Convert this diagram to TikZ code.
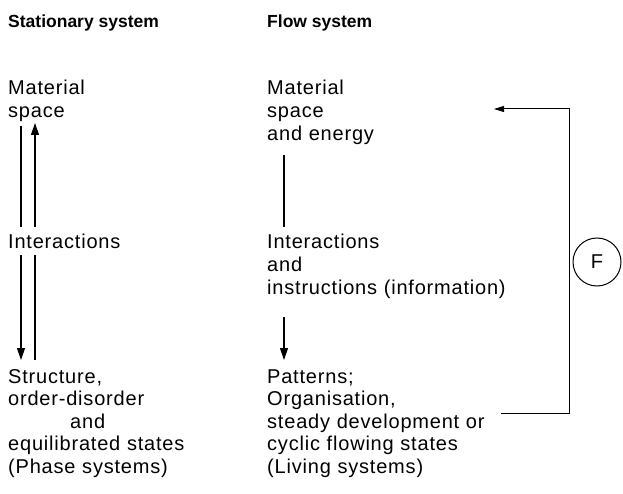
\documentclass[tikz,border=0pt]{standalone}
\usepackage{fontspec}
\setmainfont{Liberation Sans}
\newfontfamily\bodyfont[LetterSpace=4]{Liberation Sans}
\usepackage{tikz}
\usetikzlibrary{arrows.meta,positioning,calc}
\tikzset{
  ttl/.style={anchor=base west, inner sep=0pt,
    font=\bfseries\fontsize{17.5}{21}\selectfont},
  lbl/.style={anchor=base west, inner sep=0pt, text width=9cm, align=left,
    font=\bodyfont\fontsize{20}{23}\selectfont},
  lblb/.style={lbl, font=\bodyfont\fontsize{20}{22.5}\selectfont},
  link/.style={line width=1.1pt},
  flow/.style={link, -{Triangle[length=12pt, width=8pt]}},
  back/.style={line width=1pt, -{Triangle[length=10pt, width=6pt]}},
  ring/.style={draw, circle, line width=1pt, minimum size=48pt, inner sep=0pt,
    font=\fontsize{20}{23}\selectfont},
  >=Stealth}

\begin{document}
\begin{tikzpicture}[x=1pt, y=-1pt]
  \useasboundingbox (0,0) rectangle (623,494);
  % ---- column heads
  \node[ttl] (statT) at (8,28) {Stationary system};
  \node[ttl] (flowT) at (267,28) {Flow system};
  % ---- stationary column
  \node[lbl] (matL) at (8,95) {Material\\space};
  \node[lbl] (intL) at (8,248) {Interactions};
  \node[lblb] (strL) at (8,383)
    {Structure,\\order-disorder\\\hspace*{62pt}and\\equilibrated states\\(Phase systems)};
  % ---- flow column
  \node[lbl] (matR) at (267,95) {Material\\space\\and energy};
  \node[lbl] (intR) at (267,248) {Interactions\\and\\instructions (information)};
  \node[lblb] (patR) at (267,383)
    {Patterns;\\Organisation,\\steady development or\\cyclic flowing states\\(Living systems)};
  \node[ring] (F) at (597,262) {F};
  % ---- stationary: two ways between the levels
  \draw[link] ([shift={(13,31)}]matL.base west) -- ([shift={(13,-21)}]intL.base west);
  \draw[flow] ([shift={(27,-21)}]intL.base west) -- ([shift={(27,28)}]matL.base west);
  \draw[flow] ([shift={(13,7)}]intL.base west) -- ([shift={(13,-23)}]strL.base west);
  \draw[link] ([shift={(27,7)}]intL.base west) -- ([shift={(27,-23)}]strL.base west);
  % ---- flow: one way down, fed back round the side
  \draw[link] ([shift={(17,60)}]matR.base west) -- ([shift={(17,-21)}]intR.base west);
  \draw[flow] ([shift={(17,69)}]intR.base west) -- ([shift={(17,-23)}]patR.base west);
  \coordinate (fbfrom) at ([shift={(234,30)}]patR.base west);
  \coordinate (fbto) at ([shift={(227,14)}]matR.base west);
  \coordinate (fbside) at ([xshift=-3pt]F.west);
  \draw[back] (fbfrom) -| (fbside |- fbto) -- (fbto);
\end{tikzpicture}
\end{document}
